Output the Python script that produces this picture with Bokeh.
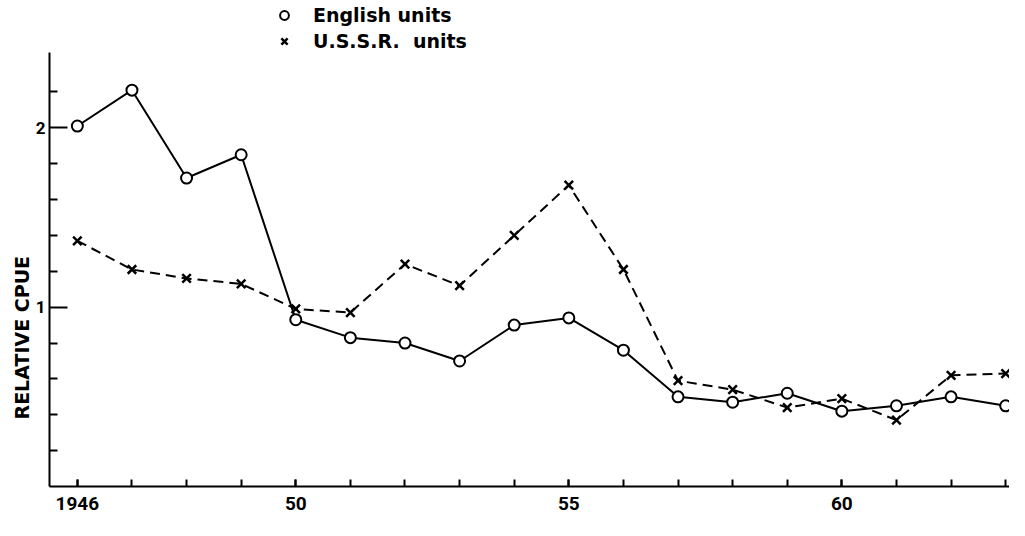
from bokeh.plotting import figure
from bokeh.layouts import column
from bokeh.models import FixedTicker, Legend, LegendItem, Range1d, Title
from bokeh.embed import file_html
from bokeh.resources import INLINE

years = list(range(1946, 1964))
english = [2.01, 2.21, 1.72, 1.85, 0.93, 0.83, 0.80, 0.70, 0.90, 0.94, 0.76,
           0.50, 0.47, 0.52, 0.42, 0.45, 0.50, 0.45]
ussr = [1.37, 1.21, 1.16, 1.13, 0.99, 0.97, 1.24, 1.12, 1.40, 1.68, 1.21,
        0.59, 0.54, 0.44, 0.49, 0.37, 0.62, 0.63]
x_major = [1946, 1950, 1955, 1960]
x_labels = {1946: "1946", 1950: "50", 1955: "55", 1960: "60"}
y_major = [1, 2]
y_minor = [0.2, 0.4, 0.6, 0.8, 1.2, 1.4, 1.6, 1.8, 2.2]
series_names = ["English units", "U.S.S.R.  units"]

FONT = "DejaVu Sans"
TICKFONT = "Roboto"

# ---- main chart
p = figure(width=1009, height=468, output_backend="svg", toolbar_location=None,
           x_range=Range1d(1945.49, 1963.07), y_range=Range1d(0, 2.42),
           min_border_left=49, min_border_right=0, min_border_bottom=34,
           min_border_top=0)
p.grid.visible = False
p.outline_line_color = None
p.background_fill_color = "white"

p.line(years, ussr, line_color="black", line_width=2, line_dash="10 6")
p.line(years, english, line_color="black", line_width=2)
p.scatter(years, ussr, marker="x", size=12, line_color="black", line_width=2.5)
p.scatter(years, english, marker="circle", size=11, line_color="black",
          fill_color="white", line_width=2)

xa = p.xaxis[0]
xa.ticker = FixedTicker(ticks=x_major, minor_ticks=years)
xa.major_label_overrides = x_labels
xa.major_tick_in = 7
xa.major_tick_out = 0
xa.minor_tick_in = 7
xa.minor_tick_out = 0
xa.axis_line_width = 2
xa.major_tick_line_width = 2
xa.minor_tick_line_width = 2
xa.major_label_text_font = TICKFONT
xa.major_label_text_font_style = "bold"
xa.major_label_text_font_size = "19px"
xa.major_label_standoff = 10
xa.major_label_text_color = "black"

ya = p.yaxis[0]
ya.ticker = FixedTicker(ticks=y_major, minor_ticks=y_minor)
ya.major_tick_in = 18
ya.major_tick_out = 0
ya.minor_tick_in = 8
ya.minor_tick_out = 0
ya.axis_line_width = 2
ya.major_tick_line_width = 2
ya.minor_tick_line_width = 2
ya.major_label_text_font = TICKFONT
ya.major_label_text_font_style = "bold"
ya.major_label_text_font_size = "17px"
ya.major_label_standoff = 4
ya.major_label_text_color = "black"

ytitle = Title(text="RELATIVE CPUE", align="left", offset=67,
               text_font=FONT, text_font_style="bold", text_font_size="19px",
               text_color="black", standoff=0)
p.add_layout(ytitle, "left")

# ---- legend strip above the chart
top = figure(width=1009, height=52, output_backend="svg", toolbar_location=None,
             x_axis_location=None, y_axis_location=None,
             min_border_left=0, min_border_right=0, min_border_top=0,
             min_border_bottom=0)
top.grid.visible = False
top.outline_line_color = None
lc = top.scatter(years, english, marker="circle", size=11, line_color="black",
                 fill_color="white", line_width=2, visible=False)
lx = top.scatter(years, ussr, marker="x", size=12, line_color="black",
                 line_width=2.5, visible=False)

legend = Legend(items=[LegendItem(label=series_names[0], renderers=[lc]),
                       LegendItem(label=series_names[1], renderers=[lx])],
                orientation="vertical", location=(224, 0),
                border_line_color=None, background_fill_alpha=0,
                inactive_fill_alpha=0,
                label_text_font=FONT, label_text_font_style="bold",
                label_text_font_size="19px", label_text_color="black",
                label_standoff=18,
                glyph_width=22, glyph_height=22, label_height=20,
                spacing=4, padding=0, margin=0)
top.add_layout(legend)

layout = column(top, p, spacing=0)
open("out.html", "w").write(file_html(layout, INLINE))
